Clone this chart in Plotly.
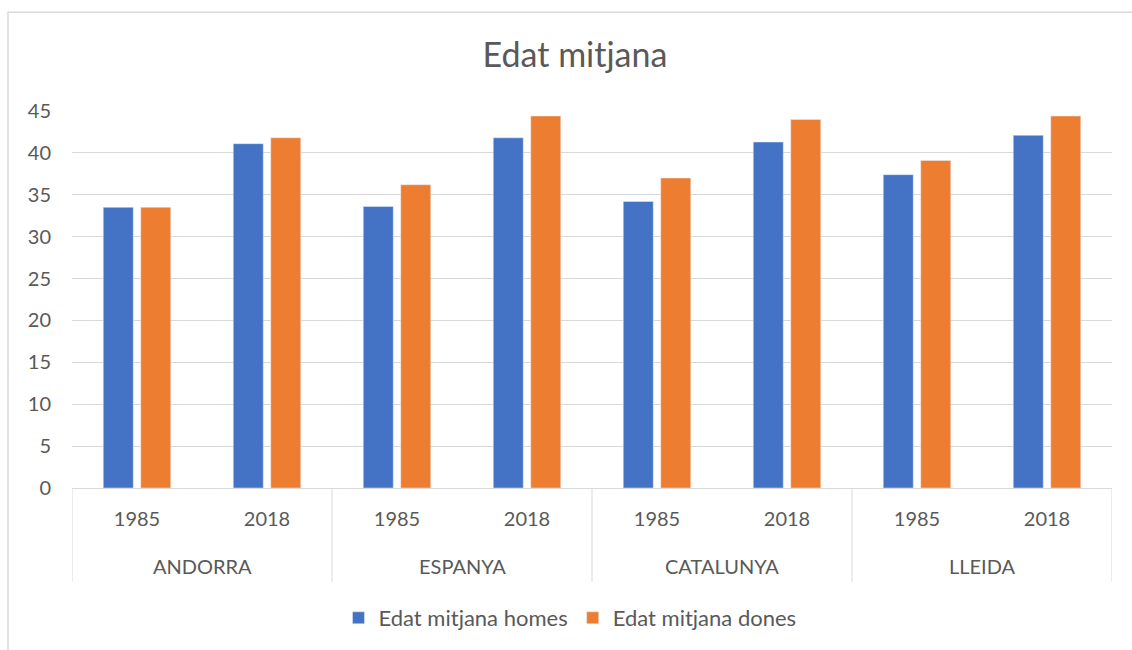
import plotly.graph_objects as go

countries = ["ANDORRA", "ESPANYA", "CATALUNYA", "LLEIDA"]
years = ["1985", "2018"]
homes = [33.5, 41.1, 33.6, 41.8, 34.2, 41.3, 37.4, 42.1]
dones = [33.5, 41.8, 36.2, 44.4, 37.0, 44.0, 39.1, 44.4]
series_names = ["Edat mitjana homes", "Edat mitjana dones"]
y_ticks = list(range(0, 50, 5))

FONT = "Lato"
TXT = "#595959"
GRID = "#d9d9d9"

n_years = len(years)
xpos = list(range(len(countries) * n_years))
year_labels = [years[i % n_years] for i in xpos]

fig = go.Figure()
fig.add_trace(go.Bar(x=xpos, y=homes, name=series_names[0], marker_color="#4472C4"))
fig.add_trace(go.Bar(x=xpos, y=dones, name=series_names[1], marker_color="#ED7D31"))

# geometry of plot area in pixels
W, H = 1132, 650
L, R, T, B = 72, 20, 111, 161
ph = H - T - B
pw = W - L - R

def py(pix):  # pixel y -> paper y
    return (H - B - pix) / ph

def px(pix):
    return (pix - L) / pw

shapes = []
for k in range(len(countries) + 1):
    xb = -0.5 + n_years * k
    shapes.append(dict(type="line", xref="x", yref="paper", x0=xb, x1=xb,
                       y0=0, y1=py(583), line=dict(color=GRID, width=1)))
# outer chart border
shapes.append(dict(type="rect", xref="paper", yref="paper", x0=px(8), x1=px(1200),
                   y0=py(700), y1=py(12), line=dict(color=GRID, width=1.5),
                   fillcolor="rgba(0,0,0,0)", layer="below"))

annotations = []
for i, c in enumerate(countries):
    annotations.append(dict(x=i * n_years + (n_years - 1) / 2, xref="x", y=py(567), yref="paper",
                            text=c, showarrow=False, yanchor="middle",
                            font=dict(family=FONT, size=20, color=TXT)))

fig.update_layout(
    width=W, height=H,
    margin=dict(l=L, r=R, t=T, b=B),
    paper_bgcolor="white", plot_bgcolor="white",
    barmode="group", bargap=0.423, bargroupgap=0.2,
    title=dict(text="Edat mitjana", x=575 / W, xanchor="center", y=1 - 55 / H, yanchor="middle",
               font=dict(family=FONT, size=34, color=TXT)),
    font=dict(family=FONT, color=TXT, size=20),
    legend=dict(orientation="h", x=px(570), xanchor="center", y=py(618), yanchor="middle",
                font=dict(family=FONT, size=22, color=TXT), itemwidth=30, traceorder="normal"),
    shapes=shapes, annotations=annotations,
    xaxis=dict(range=[-0.5, len(xpos) - 0.5], tickmode="array", tickvals=xpos, ticktext=year_labels,
               showline=True, linecolor=GRID, linewidth=1, showgrid=False, zeroline=False,
               ticks="", ticklabelstandoff=13, tickfont=dict(family=FONT, size=20, color=TXT)),
    yaxis=dict(range=[0, 45], tickmode="array", tickvals=y_ticks, showgrid=True, gridcolor=GRID,
               gridwidth=1, zeroline=False, showline=False, ticks="", ticklabelstandoff=20,
               tickfont=dict(family=FONT, size=20, color=TXT)),
)

fig.write_html("out.html", config={"displayModeBar": False},
               post_script="document.body.style.margin='0';")
